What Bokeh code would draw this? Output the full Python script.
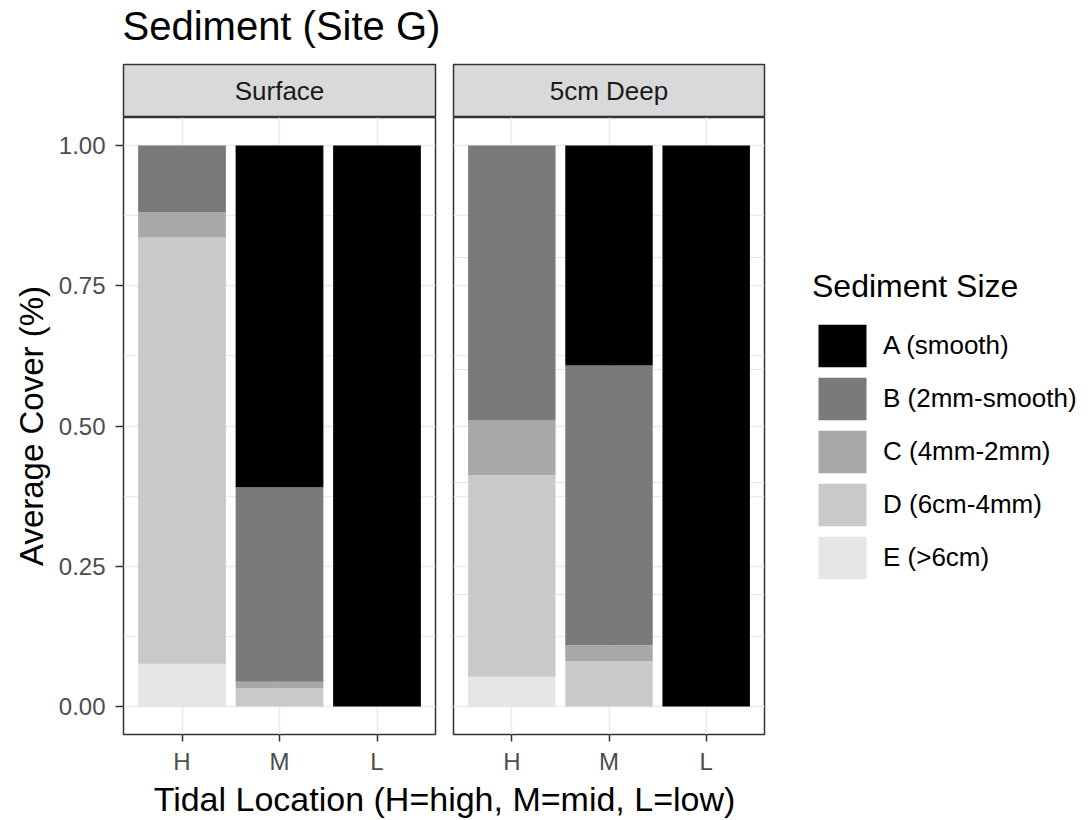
from bokeh.plotting import figure
from bokeh.models import (ColumnDataSource, FactorRange, Range1d, FixedTicker,
                          NumeralTickFormatter, Grid, Legend, LegendItem, Label)
from bokeh.layouts import column, row
from bokeh.embed import file_html
from bokeh.resources import INLINE

# ---------------- data ----------------
locations = ["H", "M", "L"]
size_classes = ["A (smooth)", "B (2mm-smooth)", "C (4mm-2mm)", "D (6cm-4mm)", "E (>6cm)"]
surface_A = [0.000, 0.609, 1.000]
surface_B = [0.119, 0.347, 0.000]
surface_C = [0.045, 0.012, 0.000]
surface_D = [0.760, 0.032, 0.000]
surface_E = [0.076, 0.000, 0.000]
deep_A = [0.000, 0.392, 1.000]
deep_B = [0.490, 0.499, 0.000]
deep_C = [0.098, 0.028, 0.000]
deep_D = [0.359, 0.081, 0.000]
deep_E = [0.053, 0.000, 0.000]
y_ticks = [0.0, 0.25, 0.5, 0.75, 1.0]
y_minor = [0.125, 0.375, 0.625, 0.875]
fill_colors = ["#000000", "#7a7a7a", "#a8a8a8", "#c9c9c9", "#e6e6e6"]

FONT = "Liberation Sans"
HEADER_H = 63
STRIP_H = 54
FRAME_H = 617
BOTTOM = 43
FOOTER_H = 42
STACK = ["E", "D", "C", "B", "A"]


def blank_fig(w, h, x_range=None, y_range=None):
    f = figure(width=w, height=h, toolbar_location=None, output_backend="svg",
               x_axis_location=None, y_axis_location=None,
               x_range=x_range if x_range is not None else Range1d(0, w),
               y_range=y_range if y_range is not None else Range1d(0, h),
               min_border_left=0, min_border_right=0, min_border_top=0, min_border_bottom=0,
               outline_line_color=None)
    f.grid.visible = False
    return f


def strip_fig(text, w, left, right):
    f = figure(width=left + w + right, height=STRIP_H, toolbar_location=None, output_backend="svg",
               x_axis_location=None, y_axis_location=None,
               x_range=Range1d(0, 1), y_range=Range1d(0, 1),
               min_border_left=left, min_border_right=right, min_border_top=1, min_border_bottom=0,
               background_fill_color="#d9d9d9", outline_line_color="#333333",
               outline_line_width=1.5)
    f.grid.visible = False
    f.add_layout(Label(x=0.5, y=0.5, text=text, text_align="center", text_baseline="middle",
                       text_font=FONT, text_font_size="26px", text_color="#1a1a1a"))
    return f


def panel_fig(src, left, right, show_y):
    fw = 312 if show_y else 311
    f = figure(x_range=FactorRange(factors=locations, range_padding=0.1,
                                   range_padding_units="absolute"),
               y_range=Range1d(-0.05, 1.05),
               width=left + fw + right, height=FRAME_H + BOTTOM,
               min_border_left=left, min_border_right=right,
               min_border_top=0, min_border_bottom=BOTTOM,
               toolbar_location=None, output_backend="svg",
               y_axis_location="left" if show_y else None,
               outline_line_color="#333333", outline_line_width=1.5)
    f.vbar_stack(STACK, x="loc", width=0.9, source=src,
                 fill_color=fill_colors[::-1], line_color=None)
    ticker = FixedTicker(ticks=y_ticks, minor_ticks=y_minor)
    if show_y:
        ya = f.yaxis[0]
        ya.ticker = ticker
        ya.formatter = NumeralTickFormatter(format="0.00")
        ya.axis_label = "Average Cover (%)"
        ya.axis_label_text_font = FONT
        ya.axis_label_text_font_size = "33px"
        ya.axis_label_text_font_style = "normal"
        ya.axis_label_text_color = "#000000"
        ya.axis_label_standoff = 6
        ya.major_label_text_font = FONT
        ya.major_label_text_font_size = "24px"
        ya.major_label_text_color = "#4d4d4d"
        ya.major_label_standoff = 10
        ya.axis_line_color = None
        ya.major_tick_line_color = "#333333"
        ya.major_tick_line_width = 1.5
        ya.major_tick_in = 0
        ya.major_tick_out = 8
        ya.minor_tick_line_color = None
        yg = f.ygrid[0]
        yg.ticker = ticker
    else:
        yg = Grid(dimension=1, ticker=ticker)
        f.add_layout(yg)
    yg.grid_line_color = "#ebebeb"
    yg.grid_line_width = 1.5
    yg.minor_grid_line_color = "#ebebeb"
    yg.minor_grid_line_width = 1
    f.xgrid.grid_line_color = "#ebebeb"
    f.xgrid.grid_line_width = 1.5
    xa = f.xaxis[0]
    xa.axis_line_color = None
    xa.major_tick_line_color = "#333333"
    xa.major_tick_line_width = 1.5
    xa.major_tick_in = 0
    xa.major_tick_out = 7
    xa.major_label_text_font = FONT
    xa.major_label_text_font_size = "24px"
    xa.major_label_text_color = "#4d4d4d"
    xa.major_label_standoff = 6
    return f


# ---------------- layout ----------------
LEFT_L, RIGHT_L = 123, 9
LEFT_R, RIGHT_R = 9, 9

src_surface = ColumnDataSource(data=dict(loc=locations, A=surface_A, B=surface_B, C=surface_C,
                                         D=surface_D, E=surface_E))
src_deep = ColumnDataSource(data=dict(loc=locations, A=deep_A, B=deep_B, C=deep_C,
                                      D=deep_D, E=deep_E))

header = blank_fig(LEFT_L + 312 + RIGHT_L, HEADER_H)
header.add_layout(Label(x=122, y=38, text="Sediment (Site G)", text_align="left",
                        text_baseline="middle", text_font=FONT, text_font_size="40px",
                        text_color="#000000"))

sL = strip_fig("Surface", 312, LEFT_L, RIGHT_L)
sR = strip_fig("5cm Deep", 311, LEFT_R, RIGHT_R)

pL = panel_fig(src_surface, LEFT_L, RIGHT_L, True)
pR = panel_fig(src_deep, LEFT_R, RIGHT_R, False)

# legend canvas: hidden copies of the stacked bars supply the legend keys
LEG_W = 310
leg = blank_fig(LEG_W, STRIP_H + FRAME_H + BOTTOM,
                x_range=FactorRange(factors=locations), y_range=Range1d(0, 1))
leg_rs = leg.vbar_stack(STACK, x="loc", width=0.9, source=src_deep,
                        fill_color=fill_colors[::-1], line_color=None, visible=False)
rs_by_class = leg_rs[::-1]  # A..E
legend = Legend(items=[LegendItem(label=lab, renderers=[r]) for lab, r in zip(size_classes, rs_by_class)],
                title="Sediment Size", location=(39, 193), orientation="vertical",
                glyph_width=60, glyph_height=53, label_height=53, spacing=0,
                padding=0, margin=0, label_standoff=11,
                label_text_font=FONT, label_text_font_size="26px", label_text_color="#000000",
                title_text_font=FONT, title_text_font_size="32px", title_text_font_style="normal",
                title_text_color="#000000", title_standoff=14,
                border_line_color=None, background_fill_alpha=0)
leg.add_layout(legend)

footer = blank_fig(870, FOOTER_H)
footer.add_layout(Label(x=444, y=21, text="Tidal Location (H=high, M=mid, L=low)",
                        text_align="center", text_baseline="middle", text_font=FONT,
                        text_font_size="34px", text_color="#000000"))

layout = column(header,
                row(column(sL, pL), column(sR, pR), leg),
                footer)

open("out.html", "w").write(file_html(layout, INLINE))
